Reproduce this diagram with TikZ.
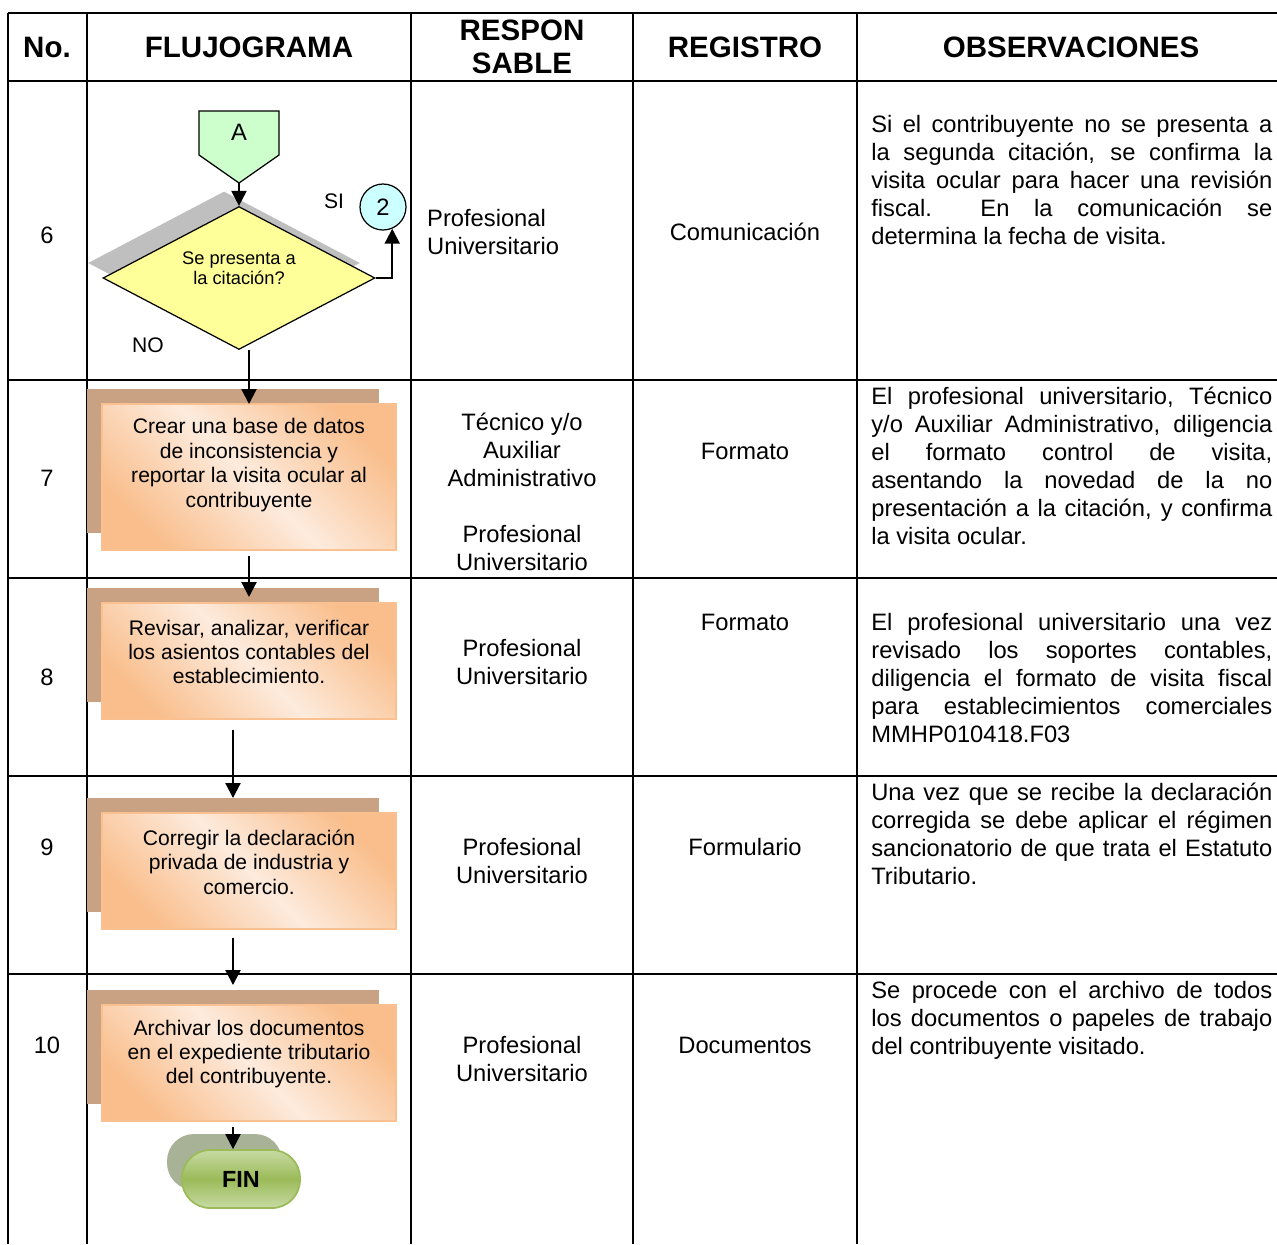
\documentclass[tikz,border=0pt]{standalone}
\usepackage{fontspec}
\setmainfont{Liberation Sans}
\usetikzlibrary{arrows.meta,shapes.geometric,positioning}

\definecolor{conngreen}{HTML}{CCFFCC}
\definecolor{conncyan}{HTML}{CCFFFF}
\definecolor{decyellow}{HTML}{FFFF99}
\definecolor{shadegray}{HTML}{BFBFBF}
\definecolor{procshade}{HTML}{C9A183}
\definecolor{procorange}{HTML}{F9BE8C}
\definecolor{proclight}{HTML}{FDEBDD}
\definecolor{procline}{HTML}{FAC090}
\definecolor{fingreen}{HTML}{9BBB59}
\definecolor{finlight}{HTML}{C7DAA3}
\definecolor{finshade}{HTML}{A8B296}

\tikzset{
  grid/.style={line width=1.3pt},
  head/.style={font=\fontsize{16.8}{18.7}\selectfont\bfseries, align=center},
  cell/.style={font=\fontsize{13.5}{15.9}\selectfont, align=center},
  obs/.style={font=\fontsize{13.5}{15.9}\selectfont, text width=8.02cm,
    align=justify, anchor=north west, inner sep=0pt},
  procshadow/.style={fill=procshade, minimum width=5.84cm, inner sep=0pt, outer sep=0pt},
  procbox/.style={draw=procline, line width=0.8pt, top color=procorange,
    bottom color=procorange, middle color=proclight, shading angle=-45,
    minimum width=5.88cm, inner sep=0pt, outer sep=0pt},
  proctext/.style={font=\fontsize{12}{13.9}\selectfont, align=center},
  decision/.style={diamond, aspect=1.9, minimum width=5.44cm,
    minimum height=2.86cm, inner sep=0pt},
  arr/.style={line width=1.2pt, -{Triangle[length=0.3cm,width=0.3cm]}},
  small/.style={font=\fontsize{12}{14}\selectfont},
}

\begin{document}
\begin{tikzpicture}[x=0.02cm,y=-0.02cm]
  \useasboundingbox (0,0) rectangle (1277,1244);

  % table
  \foreach \y in {13,81,380,578,776,974}
    \draw[grid] (8,\y) -- (1277,\y);
  \foreach \x in {8,87,411,633,857}
    \draw[grid] (\x,13) -- (\x,1244);

  % header
  \node[head] (hno) at (47,47) {No.};
  \node[head] (hflujo) at (249,47) {FLUJOGRAMA};
  \node[head] (hresp) at (522,47) {RESPON\\SABLE};
  \node[head] (hreg) at (745,47) {REGISTRO};
  \node[head] (hobs) at (1071,47) {OBSERVACIONES};

  % numbers
  \node[cell] (n6) at (47,235) {6};
  \node[cell] (n7) at (47,478) {7};
  \node[cell] (n8) at (47,677) {8};
  \node[cell] (n9) at (47,847) {9};
  \node[cell] (n10) at (47,1045) {10};

  % step 6
  \filldraw[fill=conngreen, draw=black, line width=0.7pt]
    (199,111) -- (279,111) -- (279,155) -- (239,183) -- (199,155) -- cycle;
  \coordinate (Atip) at (239,183);
  \node[font=\fontsize{13.5}{15}\selectfont] (A) at (239,132) {A};
  \node[decision, fill=shadegray] (decs) at (224,263) {};
  \node[decision, draw=black, fill=decyellow, line width=0.7pt] (dec) at (239,278) {};
  \node[font=\fontsize{10.4}{11.5}\selectfont, align=center] (dect) at (239,268)
    {Se presenta a\\la citación?};
  \node[circle, draw=black, fill=conncyan, minimum size=0.92cm, inner sep=0pt,
    line width=0.7pt, font=\fontsize{13.5}{15}\selectfont] (c2) at (383,207) {2};
  \node[small] (si) at (334,201) {SI};
  \node[small] (no) at (148,345) {NO};

  % steps 7 - 10
  \node[procshadow, minimum height=2.88cm] (b7s) at (233,461) {};
  \node[procbox, minimum height=2.92cm] (b7) at (249,477) {};
  \node[proctext] (t7) at (249,465)
    {Crear una base de datos\\de inconsistencia y\\reportar la visita ocular al\\contribuyente};

  \node[procshadow, minimum height=2.28cm] (b8s) at (233,645) {};
  \node[procbox, minimum height=2.32cm] (b8) at (249,661) {};
  \node[proctext] (t8) at (249,652)
    {Revisar, analizar, verificar\\los asientos contables del\\establecimiento.};

  \node[procshadow, minimum height=2.28cm] (b9s) at (233,855) {};
  \node[procbox, minimum height=2.32cm] (b9) at (249,871) {};
  \node[proctext] (t9) at (249,862)
    {Corregir la declaración\\privada de industria y\\comercio.};

  \node[procshadow, minimum height=2.28cm] (b10s) at (233,1047) {};
  \node[procbox, minimum height=2.32cm] (b10) at (249,1063) {};
  \node[proctext] (t10) at (249,1054)
    {Archivar los documentos\\en el expediente tributario\\del contribuyente.};

  \node[fill=finshade, minimum width=2.3cm, minimum height=1.12cm,
    rounded corners=0.54cm, inner sep=0pt] (fins) at (224.5,1162) {};
  \node[draw=fingreen, line width=1pt, top color=finlight, bottom color=finlight,
    middle color=fingreen, minimum width=2.36cm, minimum height=1.16cm,
    rounded corners=0.56cm, inner sep=0pt,
    font=\fontsize{13.3}{15}\selectfont\bfseries] (fin) at (241,1179) {FIN};

  % connectors
  \draw[arr] (Atip) -- (dec.north);
  \draw[arr] (dec.east) -| (c2.-67);
  \draw[arr] (dec.south -| b7.north) -- (b7.north);
  \draw[arr, shorten <=0.12cm, shorten >=0.12cm] (b7.south) -- (b8.north);
  \draw[arr, shorten <=0.22cm] (b8.south -| b9s.north) -- (b9s.north);
  \draw[arr, shorten <=0.18cm, shorten >=0.1cm] (b9.south -| b10s.north) -- (b10s.north);
  \draw[arr, shorten <=0.12cm] (b10.south -| b10s.north) -- (fin.north -| b10s.north);

  % responsable
  \node[cell, anchor=west, align=left] (r6) at (421,232) {Profesional\\Universitario};
  \node[cell] (r7) at (522,492)
    {Técnico y/o\\Auxiliar\\Administrativo\\[15.9pt]Profesional\\Universitario};
  \node[cell] (r8) at (522,662) {Profesional\\Universitario};
  \node[cell] (r9) at (522,861) {Profesional\\Universitario};
  \node[cell] (r10) at (522,1059) {Profesional\\Universitario};

  % registro
  \node[cell] (g6) at (745,232) {Comunicación};
  \node[cell] (g7) at (745,451) {Formato};
  \node[cell] (g8) at (745,622) {Formato};
  \node[cell] (g9) at (745,847) {Formulario};
  \node[cell] (g10) at (745,1045) {Documentos};

  % observaciones
  \node[obs] (o6) at (871,115)
    {Si el contribuyente no se presenta a\linebreak la segunda citación, se confirma la\linebreak
     visita ocular para hacer una revisión\linebreak fiscal.\quad\ En la comunicación se\linebreak
     determina la fecha de visita.};
  \node[obs] (o7) at (871,387)
    {El profesional universitario,\ Técnico\linebreak y/o Auxiliar Administrativo, diligencia\linebreak
     el formato control de visita,\linebreak asentando la novedad de la no\linebreak
     presentación a la citación, y confirma\linebreak la visita ocular.};
  \node[obs] (o8) at (871,613)
    {El profesional universitario una vez\linebreak revisado los soportes contables,\linebreak
     diligencia el formato de visita fiscal\linebreak para establecimientos comerciales\linebreak
     MMHP010418.F03};
  \node[obs] (o9) at (871,783)
    {Una vez que se recibe la declaración\linebreak corregida se debe aplicar el régimen\linebreak
     sancionatorio de que trata el Estatuto\linebreak Tributario.};
  \node[obs] (o10) at (871,981)
    {Se procede con el archivo de todos\linebreak los documentos o papeles de trabajo\linebreak
     del contribuyente visitado.};
\end{tikzpicture}
\end{document}
